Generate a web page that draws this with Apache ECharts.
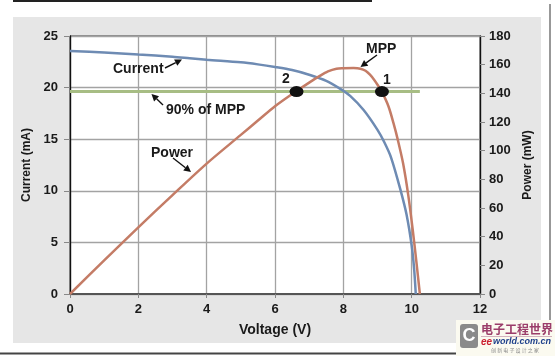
<!DOCTYPE html>
<html>
<head>
<meta charset="utf-8">
<style>html,body{margin:0;padding:0;background:#fff;}#c{width:555px;height:358px;}</style>
<script src="https://cdn.jsdelivr.net/npm/echarts@6/dist/echarts.min.js"></script>
</head>
<body>
<div id="c"></div>
<script>
// ---- data ----
var currentV = [0, 1, 2, 3, 3.5, 4, 5, 5.5, 6, 6.5, 7, 7.5, 7.9, 8.2, 8.6, 9.0, 9.2, 9.4, 9.68, 9.85, 10.0, 10.07, 10.12];
var currentI = [23.55, 23.4, 23.2, 23.0, 22.85, 22.7, 22.45, 22.25, 22.0, 21.7, 21.25, 20.65, 19.9, 19.2, 17.8, 15.9, 14.7, 13.2, 10.0, 7.7, 4.7, 2.5, 0];
var powerV = [0, 1, 2, 3, 4, 5, 5.5, 6, 6.5, 7, 7.3, 7.55, 7.8, 8.0, 8.3, 8.5, 8.65, 8.78, 8.9, 9.0, 9.13, 9.32, 9.47, 9.6, 9.75, 9.9, 10.03, 10.14, 10.24];
var powerP = [0, 23.5, 46.5, 69, 91, 111, 121, 131, 139.5, 147.5, 152, 155.3, 157.2, 157.5, 157.6, 157.2, 155.8, 153, 149.5, 146, 141, 131, 119, 107, 91, 69, 45, 22, 0];
var mpp90 = 141.2;
var mpp90V = [0, 10.24];
var opPointsV = [9.13, 6.63];   // points "1" and "2"
var xTicks = [0, 2, 4, 6, 8, 10, 12];
var currentTicks = [0, 5, 10, 15, 20, 25];
var powerTicks = [0, 20, 40, 60, 80, 100, 120, 140, 160, 180];

function pairs(xs, ys) { return xs.map(function (x, i) { return [x, ys[i]]; }); }

var FONT = '"Liberation Sans", Arial, sans-serif';
var chart = echarts.init(document.getElementById('c'), null, { renderer: 'canvas' });

function arrow(x1, y1, x2, y2) {
  var a = Math.atan2(y2 - y1, x2 - x1), L = 7, W = 3.6;
  var bx = x2 - L * Math.cos(a), by = y2 - L * Math.sin(a);
  var px = -Math.sin(a) * W, py = Math.cos(a) * W;
  return [
    { type: 'line', z: 100, shape: { x1: x1, y1: y1, x2: bx, y2: by }, style: { stroke: '#111', lineWidth: 1.4 } },
    { type: 'polygon', z: 100, shape: { points: [[x2, y2], [bx + px, by + py], [bx - px, by - py]] }, style: { fill: '#111' } }
  ];
}
function label(t, x, y, size) {
  return { type: 'text', z: 100, style: { text: t, x: x, y: y, font: 'bold ' + (size || 14) + 'px ' + FONT, fill: '#1a1a1a', align: 'left', verticalAlign: 'middle' } };
}

var graphics = [
  { type: 'rect', z: -100, silent: true, shape: { x: 13, y: 17, width: 528, height: 326 }, style: { fill: '#e6e6e6' } },
  { type: 'line', z: -90, shape: { x1: 13, y1: 1, x2: 372, y2: 1 }, style: { stroke: '#222', lineWidth: 2 } },
  { type: 'line', z: -90, shape: { x1: 0, y1: 353.5, x2: 555, y2: 353.5 }, style: { stroke: '#444', lineWidth: 2 } },
  { type: 'line', z: -90, shape: { x1: 550, y1: 4, x2: 550, y2: 353 }, style: { stroke: '#333', lineWidth: 1 } },
  label('Current', 113, 69),
  label('90% of MPP', 166, 110),
  label('Power', 151, 153),
  label('MPP', 366, 49),
  label('2', 282, 79),
  label('1', 383, 80),
  // watermark
  { type: 'rect', z: 90, shape: { x: 456, y: 320, width: 99, height: 36 }, style: { fill: '#fbfaf0' } },
  { type: 'rect', z: 91, shape: { x: 460, y: 324, width: 18, height: 24, r: 3 }, style: { fill: '#8a8a8a' } },
  { type: 'text', z: 92, style: { text: 'C', x: 469, y: 336, font: 'bold 18px ' + FONT, fill: '#fff', align: 'center', verticalAlign: 'middle' } },
  { type: 'text', z: 92, style: { text: '电子工程世界', x: 481, y: 329, font: 'bold 12px "Noto Sans CJK SC"', fill: '#9b3d6a', align: 'left', verticalAlign: 'middle' } },
  { type: 'line', z: 92, shape: { x1: 481, y1: 336.5, x2: 552, y2: 336.5 }, style: { stroke: '#c9a0b0', lineWidth: 0.8 } },
  { type: 'text', z: 92, style: { text: 'ee', x: 481, y: 342, font: 'italic bold 10px ' + FONT, fill: '#cc2233', align: 'left', verticalAlign: 'middle' } },
  { type: 'text', z: 92, style: { text: 'world.com.cn', x: 493, y: 342, font: 'italic bold 9px ' + FONT, fill: '#1d3f8a', align: 'left', verticalAlign: 'middle' } },
  { type: 'text', z: 92, style: { text: '创 新 电 子 设 计 之 家', x: 515, y: 350, font: '5px "Noto Sans CJK SC"', fill: '#888', align: 'center', verticalAlign: 'middle' } }
].concat(arrow(165, 68, 182, 59.5))
 .concat(arrow(163, 105, 151.5, 94))
 .concat(arrow(173, 158, 191, 172))
 .concat(arrow(377, 55, 360.5, 67));

var axisLabelStyle = { fontFamily: FONT, fontWeight: 'bold', fontSize: 13, color: '#1a1a1a' };

var option = {
  backgroundColor: '#ffffff',
  animation: false,
  grid: { left: 70, right: 75, top: 36, bottom: 64, show: true, backgroundColor: '#ffffff', borderColor: '#333', borderWidth: 1 },
  xAxis: {
    type: 'value', min: xTicks[0], max: xTicks[xTicks.length - 1], interval: 2,
    name: 'Voltage (V)', nameLocation: 'middle', nameGap: 29,
    nameTextStyle: { fontFamily: FONT, fontWeight: 'bold', fontSize: 14, color: '#1a1a1a' },
    axisLine: { show: true, lineStyle: { color: '#555', width: 2 } },
    axisTick: { show: true, length: 4, lineStyle: { color: '#888' } },
    axisLabel: Object.assign({ margin: 9 }, axisLabelStyle),
    splitLine: { show: true, lineStyle: { color: '#a3a3a3', width: 1.3 } }
  },
  yAxis: [
    {
      type: 'value', min: 0, max: 25, interval: 5, position: 'left',
      name: 'Current (mA)', nameLocation: 'middle', nameGap: 30, nameRotate: 90,
      nameTextStyle: { fontFamily: FONT, fontWeight: 'bold', fontSize: 12, color: '#1a1a1a' },
      axisLine: { show: true, lineStyle: { color: '#111', width: 1.3 } },
      axisTick: { show: true, length: 6, lineStyle: { color: '#888' } },
      axisLabel: Object.assign({ margin: 12 }, axisLabelStyle),
      splitLine: { show: true, lineStyle: { color: '#a3a3a3', width: 1.3 } }
    },
    {
      type: 'value', min: 0, max: 180, interval: 20, position: 'right',
      name: 'Power (mW)', nameLocation: 'middle', nameGap: 35, nameRotate: 90,
      nameTextStyle: { fontFamily: FONT, fontWeight: 'bold', fontSize: 12, color: '#1a1a1a' },
      axisLine: { show: true, lineStyle: { color: '#111', width: 1.3 } },
      axisTick: { show: true, length: 5, lineStyle: { color: '#888' } },
      axisLabel: Object.assign({ margin: 9 }, axisLabelStyle),
      splitLine: { show: false }
    }
  ],
  series: [
    {
      name: '90% of MPP', type: 'line', yAxisIndex: 1, symbol: 'none',
      data: mpp90V.map(function (v) { return [v, mpp90]; }),
      lineStyle: { color: '#a7bd84', width: 3 }, z: 2
    },
    {
      name: 'Current', type: 'line', yAxisIndex: 0, symbol: 'none', smooth: 0.3,
      data: pairs(currentV, currentI),
      lineStyle: { color: '#6e8bb3', width: 2.5 }, z: 3
    },
    {
      name: 'Power', type: 'line', yAxisIndex: 1, symbol: 'none', smooth: 0.3,
      data: pairs(powerV, powerP),
      lineStyle: { color: '#c47c66', width: 2.5 }, z: 4
    },
    {
      name: 'points', type: 'scatter', yAxisIndex: 1, symbol: 'circle', symbolSize: [14, 11],
      data: opPointsV.map(function (v) { return [v, mpp90]; }),
      itemStyle: { color: '#111', opacity: 1 }, z: 5
    }
  ],
  graphic: graphics
};
chart.setOption(option);
</script>
</body>
</html>
